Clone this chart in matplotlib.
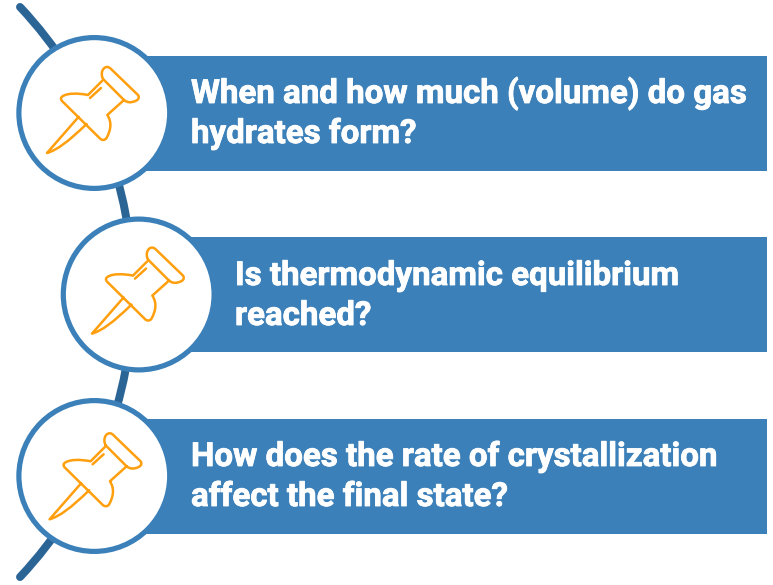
import numpy as np
import matplotlib
matplotlib.use("Agg")
import matplotlib.pyplot as plt
import matplotlib.patheffects as pe
from matplotlib.patches import Arc, Circle, PathPatch, Rectangle
from matplotlib.path import Path
from matplotlib.transforms import Affine2D

QUESTIONS = [
    ["When and how much (volume) do gas", "hydrates form?"],
    ["Is thermodynamic equilibrium", "reached?"],
    ["How does the rate of crystallization", "affect the final state?"],
]
BLUE = "#3b80b9"
DARK = "#2b6596"
ORANGE = "#ff9f0d"
PX = 72 / 100  # points per pixel at dpi 100

# outline of the pin, pixel coordinates of the first one
M, L, C = Path.MOVETO, Path.LINETO, Path.CURVE4
PIN = [
    # head
    ((103, 79), M), ((100, 73), C), ((103, 67), C), ((107, 67), C),
    ((109, 67), C), ((110, 68), C), ((111, 69), C),
    ((138, 95), L), ((140, 98), C), ((138, 101), C), ((132, 102), C),
    ((128, 103), C), ((125, 101), C), ((123, 99), C),
    ((103, 79), L),
    # body
    ((102, 81), M), ((88, 95), L), ((78, 93), C), ((68, 93), C), ((63, 96), C),
    ((60.5, 97.5), C), ((60.5, 99), C), ((62, 101), C),
    ((100, 138.5), L), ((102, 140.5), C), ((105, 140.5), C), ((106.5, 138), C),
    ((111, 130), C), ((112, 122), C), ((107.3, 115), C),
    ((124, 100), L),
    # needle
    ((78.5, 117), M), ((47, 153), L), ((57, 150), C), ((68, 142), C), ((86.5, 124), C),
    # inner line
    ((90, 98), M), ((101, 88), L),
]
pin_verts, pin_codes = zip(*PIN)
pin_path = Path(pin_verts, pin_codes)

CIRCLES = [(94.3, 113), (138.7, 294.5), (94.3, 476)]
PIN_SHIFT = [(0, 0), (45, 180.6), (2.6, 366.3)]
BARS = [(55.5, 171), (237, 352), (418.5, 533.5)]
TEXT_X = [191, 235, 191]
BASELINES = [(103, 143), (285, 325), (466, 506)]

fig = plt.figure(figsize=(7.73, 5.85), dpi=100)
ax = fig.add_axes([0, 0, 1, 1])
ax.set_xlim(0, 773)
ax.set_ylim(585, 0)
ax.axis("off")

# big arc behind the circles
R = 416
theta = np.degrees(np.arcsin(285 / R))
ax.add_patch(Arc((133 - R, 292), 2 * R, 2 * R, theta1=-theta, theta2=theta,
                 color=DARK, lw=8 * PX, capstyle="round", zorder=1))

for i in range(3):
    top, bottom = BARS[i]
    ax.add_patch(Rectangle((CIRCLES[i][0], top), 767 - CIRCLES[i][0], bottom - top,
                           fc=BLUE, ec="none", zorder=2))
    ax.add_patch(Circle(CIRCLES[i], 75.4, fc="white", ec=BLUE, lw=5.2 * PX, zorder=3))
    shift = Affine2D().translate(*PIN_SHIFT[i])
    ax.add_patch(PathPatch(pin_path.transformed(shift), fc="none", ec=ORANGE, lw=2.5 * PX,
                           joinstyle="round", capstyle="round", zorder=4))
    for line, y in zip(QUESTIONS[i], BASELINES[i]):
        # thin stroke so the letters are as heavy as the condensed bold of the original
        ax.text(TEXT_X[i], y, line, family="Roboto", weight="bold", color="white",
                fontsize=23.8, ha="left", va="baseline", zorder=5,
                path_effects=[pe.withStroke(linewidth=0.6, foreground="white")])

fig.savefig("out.png", dpi=100)
